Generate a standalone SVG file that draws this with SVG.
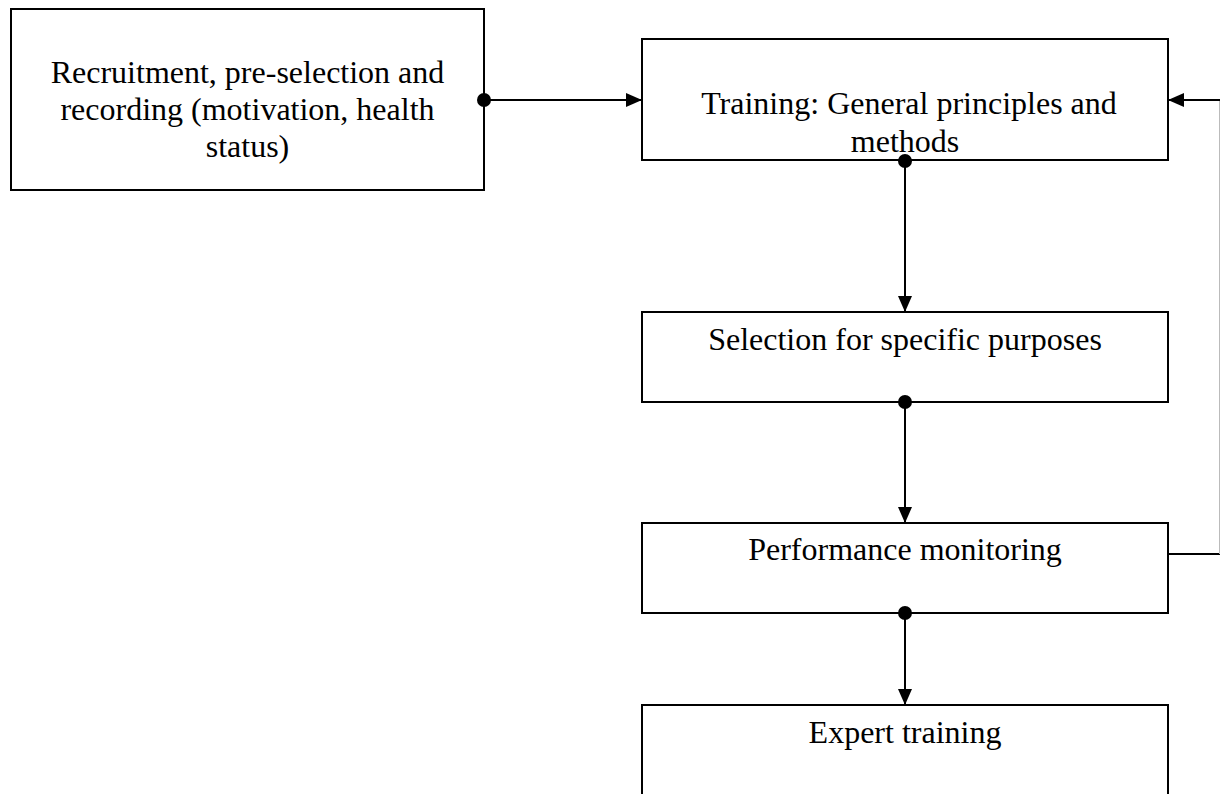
<svg xmlns="http://www.w3.org/2000/svg" width="1220" height="794" viewBox="0 0 1220 794">
<style>
.box{fill:#fff;stroke:#000;stroke-width:2}
.t{font-family:"Liberation Serif","Times New Roman",serif;font-size:32px;fill:#000;text-anchor:middle}
.c{fill:none;stroke:#000;stroke-width:2}
.dot{fill:#000}
</style>
<defs>
<marker id="arr" viewBox="0 0 16 14" refX="16" refY="7" markerWidth="16" markerHeight="14" markerUnits="userSpaceOnUse" orient="auto">
<path d="M0,0 L16,7 L0,14 Z" fill="#000"/>
</marker>
</defs>
<g id="n1">
<rect class="box" x="11" y="9" width="473" height="181"/>
<text class="t" x="247.5" y="83">Recruitment, pre-selection and</text>
<text class="t" x="247.5" y="120">recording (motivation, health</text>
<text class="t" x="247.5" y="157">status)</text>
</g>
<g id="n2">
<rect class="box" x="642" y="39" width="526" height="121"/>
<text class="t" x="909" y="114">Training: General principles and</text>
<text class="t" x="905" y="152">methods</text>
</g>
<g id="n3">
<rect class="box" x="642" y="312" width="526" height="90"/>
<text class="t" x="905" y="350">Selection for specific purposes</text>
</g>
<g id="n4">
<rect class="box" x="642" y="523" width="526" height="90"/>
<text class="t" x="905" y="560">Performance monitoring</text>
</g>
<g id="n5">
<rect class="box" x="642" y="705" width="526" height="100"/>
<text class="t" x="905" y="743">Expert training</text>
</g>
<g id="connectors">
<line class="c" x1="484" y1="100" x2="642" y2="100" marker-end="url(#arr)"/>
<circle class="dot" cx="484" cy="100" r="7"/>
<line class="c" x1="905" y1="160" x2="905" y2="312" marker-end="url(#arr)"/>
<circle class="dot" cx="905" cy="161" r="7"/>
<line class="c" x1="905" y1="402" x2="905" y2="523" marker-end="url(#arr)"/>
<circle class="dot" cx="905" cy="402" r="7"/>
<line class="c" x1="905" y1="613" x2="905" y2="705" marker-end="url(#arr)"/>
<circle class="dot" cx="905" cy="613" r="7"/>
<line class="c" x1="1168" y1="554" x2="1220" y2="554"/>
<line x1="1219.5" y1="100" x2="1219.5" y2="554" stroke="#bbb" stroke-width="1"/>
<line class="c" x1="1220" y1="100" x2="1168" y2="100" marker-end="url(#arr)"/>
</g>
</svg>
